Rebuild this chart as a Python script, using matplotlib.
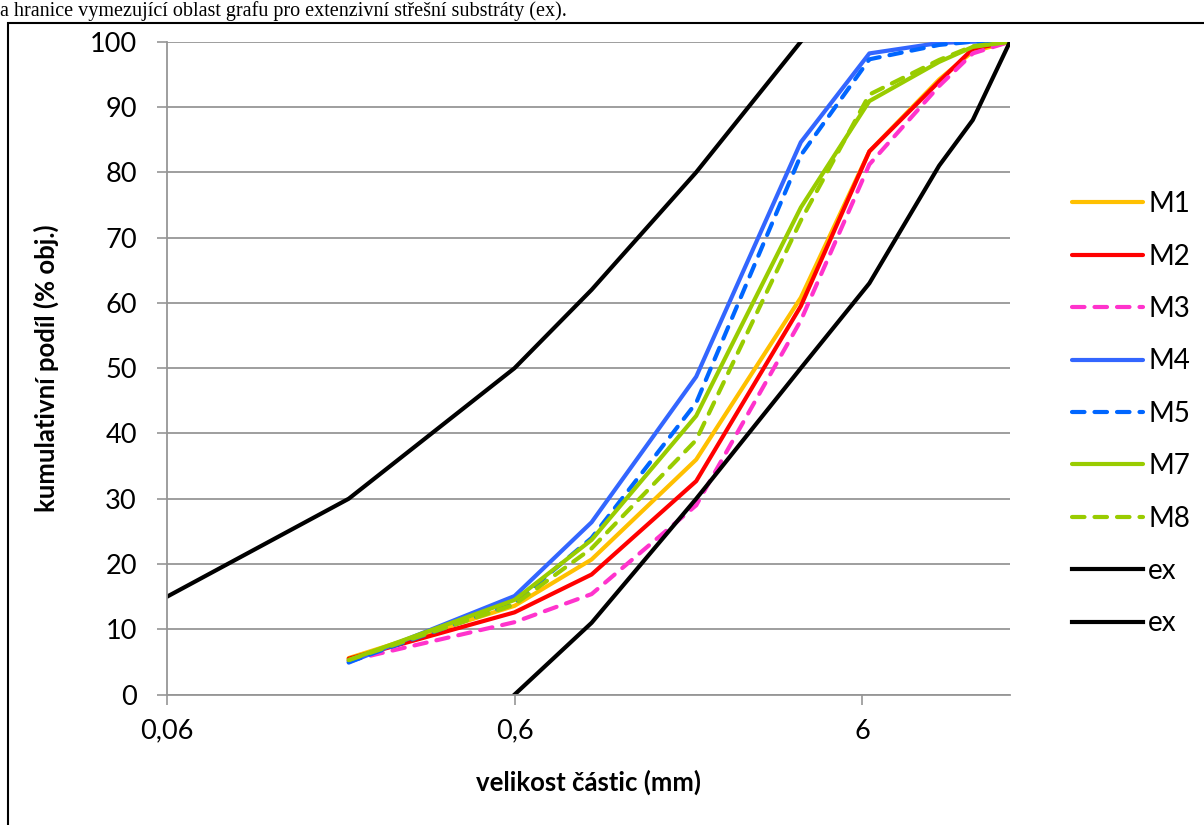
import matplotlib
matplotlib.use('Agg')
import matplotlib.pyplot as plt
from matplotlib.patches import Rectangle

# sieve sizes (mm)
x_m = [0.2, 0.6, 1, 2, 4, 6.3, 10, 12.5, 16]
m1 = [5.6, 13.6, 20.7, 36.0, 60.8, 83.2, 94.2, 98.5, 100]
m2 = [5.5, 12.6, 18.4, 32.7, 59.5, 83.2, 93.9, 98.9, 100]
m3 = [5.2, 11.1, 15.4, 29.0, 57.3, 81.2, 93.2, 98.2, 100]
m4 = [4.9, 15.1, 26.4, 48.7, 84.6, 98.2, 99.8, 100, 100]
m5 = [5.0, 14.0, 24.0, 44.7, 82.6, 97.3, 99.5, 100, 100]
m7 = [5.3, 14.5, 23.7, 42.7, 74.6, 90.9, 96.9, 99.2, 100]
m8 = [5.3, 13.8, 22.4, 39.0, 72.6, 91.9, 97.2, 99.3, 100]

x_ex_hi = [0.06, 0.2, 0.6, 1, 2, 4]
ex_hi = [15, 30, 50, 62, 80, 100]
x_ex_lo = [0.6, 1, 2, 4, 6.3, 10, 12.5, 16]
ex_lo = [0, 11, 30, 50, 63, 81, 88, 100]

series = [
    ('M1', m1, '#FFC000', '-'),
    ('M2', m2, '#FF0000', '-'),
    ('M3', m3, '#FF33CC', '--'),
    ('M4', m4, '#3366FF', '-'),
    ('M5', m5, '#0066FF', '--'),
    ('M7', m7, '#99CC00', '-'),
    ('M8', m8, '#99CC00', '--'),
]

plt.rcParams['font.family'] = ['Lato', 'DejaVu Sans']

fig = plt.figure(figsize=(12.04, 8.25), dpi=100)
ax = fig.add_axes([0.1387, 0.158, 0.7002, 0.7915])

lw = 3.0
for name, vals, col, ls in series:
    kw = dict(color=col, lw=lw, label=name, solid_capstyle='round', solid_joinstyle='round')
    if ls == '--':
        kw.update(dashes=(3.0, 2.4), dash_capstyle='round')
    ax.plot(x_m, vals, **kw)
ax.plot(x_ex_hi, ex_hi, color='black', lw=lw, label='ex', solid_joinstyle='round')
ax.plot(x_ex_lo, ex_lo, color='black', lw=lw, label='ex', solid_joinstyle='round')

ax.set_xscale('log')
ax.set_xlim(0.06, 16)
ax.set_ylim(0, 100)
ax.set_xticks([0.06, 0.6, 6])
ax.set_xticklabels(['0,06', '0,6', '6'])
ax.xaxis.set_minor_locator(matplotlib.ticker.NullLocator())
ax.set_yticks(range(0, 101, 10))
ax.grid(axis='y', color='#969696', lw=1.3)
ax.set_axisbelow(True)
for s in ['top', 'right']:
    ax.spines[s].set_visible(False)
for s in ['left', 'bottom']:
    ax.spines[s].set_color('#969696')
    ax.spines[s].set_linewidth(1.3)
ax.tick_params(axis='both', colors='#969696', labelcolor='black', labelsize=19.5, length=7.2, width=1.2)
ax.tick_params(axis='x', pad=10)
ax.tick_params(axis='y', pad=14.5)

ax.set_xlabel('velikost částic (mm)', fontsize=18.5, fontweight='bold', labelpad=19)
ax.set_ylabel('kumulativní podíl (% obj.)', fontsize=18.5, fontweight='bold', labelpad=22)

ax.legend(loc='upper left', bbox_to_anchor=(1.06, 0.788), frameon=False, fontsize=20,
          handlelength=2.55, handletextpad=0.2, labelspacing=0.95, borderaxespad=0)

# chart border and caption above it
fig.patches.append(Rectangle((8 / 1204, -0.1), 1.2, (825 - 23) / 825 + 0.1, transform=fig.transFigure,
                             fill=False, edgecolor='black', lw=1.5))
fig.text(0.0, 1.0 - 1 / 825, 'a hranice vymezující oblast grafu pro extenzivní střešní substráty (ex).',
         family=['Liberation Serif', 'DejaVu Serif'], fontsize=14.5, ha='left', va='top')

fig.savefig('out.png', dpi=100)
